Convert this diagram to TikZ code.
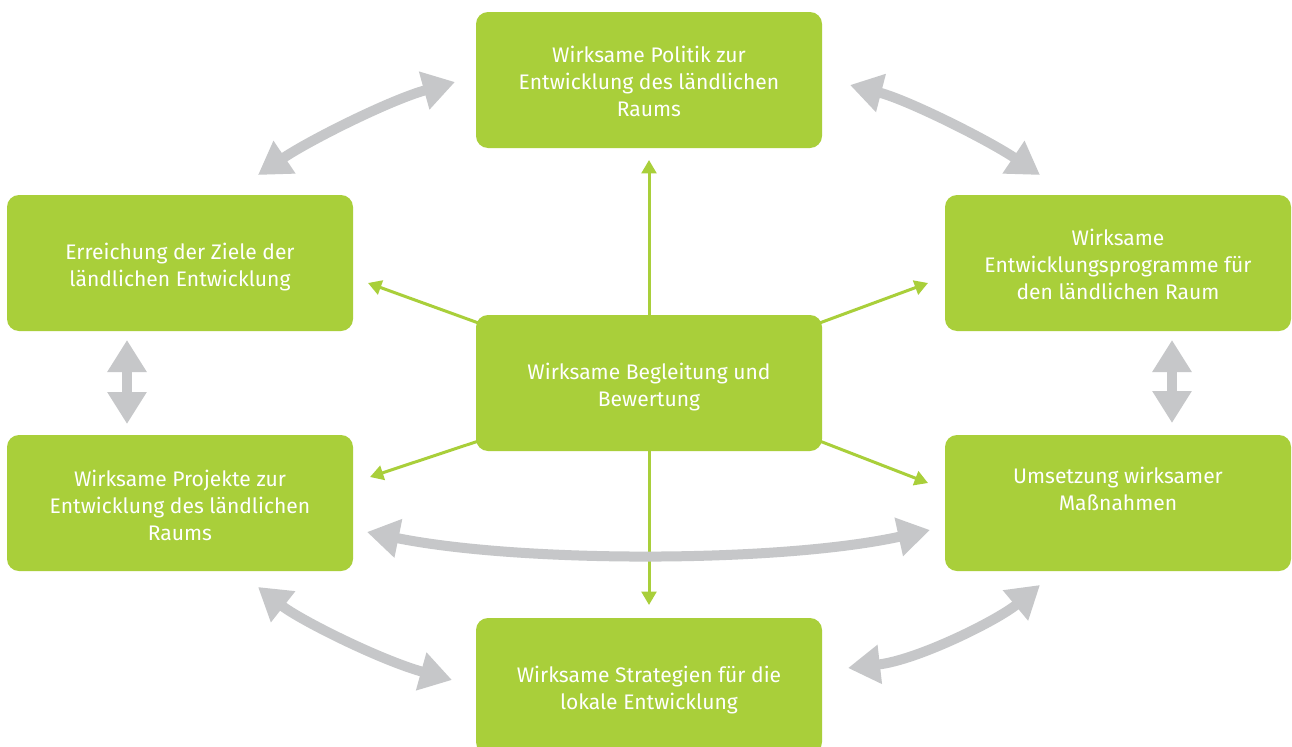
\documentclass[tikz,border=0pt]{standalone}
\usepackage{fontspec}
\setmainfont{Fira Sans}
\usetikzlibrary{arrows.meta,calc}
\definecolor{eugreen}{HTML}{A9CF3A}
\definecolor{eugray}{HTML}{C6C7C9}
\begin{document}
\begin{tikzpicture}[x=0.75pt,y=-0.75pt,
  box/.style={fill=eugreen, rounded corners=9pt, minimum width=259.5pt, minimum height=102pt, inner sep=0pt},
  boxtext/.style={align=center, text=white, font=\fontsize{15.8}{20.25}\selectfont, inner sep=0pt},
  garrow/.style={draw=eugreen, line width=2.25pt, -{Triangle[width=11pt,length=10pt]}},
  grayarr/.style={draw=eugray, line width=7.5pt,
    {Triangle[width=28pt,length=24pt]}-{Triangle[width=28pt,length=24pt]}}]
\clip (0,0) rectangle (1292,746);
\fill[white] (0,0) rectangle (1292,746);

\node[box] (T)  at (649,80)  {};
\node[box] (LU) at (180,263) {};
\node[box] (RU) at (1118,263) {};
\node[box] (C)  at (649,383) {};
\node[box] (LL) at (180,503) {};
\node[box] (RL) at (1118,503) {};
\node[box] (B)  at (649,686) {};

\node[boxtext] (tT)  at ($(T)+(0,1)$)   {Wirksame Politik zur\\Entwicklung des ländlichen\\Raums};
\node[boxtext] (tLU) at ($(LU)+(0,4)$)  {Erreichung der Ziele der\\ländlichen Entwicklung};
\node[boxtext] (tRU) at ($(RU)+(0,1.5)$) {Wirksame\\Entwicklungsprogramme für\\den ländlichen Raum};
\node[boxtext] (tC)  at ($(C)+(0,4)$)   {Wirksame Begleitung und\\Bewertung};
\node[boxtext] (tLL) at ($(LL)+(0,2)$)  {Wirksame Projekte zur\\Entwicklung des ländlichen\\Raums};
\node[boxtext] (tRL) at ($(RL)+(0,-14)$) {Umsetzung wirksamer\\Maßnahmen};
\node[boxtext] (tB)  at ($(B)+(0,4)$)   {Wirksame Strategien für die\\lokale Entwicklung};

% green arrows from the centre box
\coordinate (gT) at (649,160);
\coordinate (gB) at (649,605);
\coordinate (gLU) at (368,283);
\coordinate (gLL) at (370,477);
\coordinate (gRU) at (928,283);
\coordinate (gRL) at (928,483);
\draw[garrow] ($(C.north)+(0,4)$) -- (gT);
\draw[garrow] ($(C.south)+(0,-4)$) -- (gB);
\draw[garrow] ($(C.north west)+(2,8)$) -- (gLU);
\draw[garrow] ($(C.south west)+(2,-10)$) -- (gLL);
\draw[garrow] ($(C.north east)+(-2,8)$) -- (gRU);
\draw[garrow] ($(C.south east)+(-2,-10)$) -- (gRL);

% grey double arrows
\coordinate (a1) at (258,175);  \coordinate (a2) at (455,82);
\coordinate (b1) at (850,85);   \coordinate (b2) at (1040,175);
\coordinate (c1) at (127,340);  \coordinate (c2) at (127,424);
\coordinate (d1) at (1172,340); \coordinate (d2) at (1172,423);
\coordinate (e1) at (367,532);  \coordinate (e2) at (930,530);
\coordinate (f1) at (258,587);  \coordinate (f2) at (452,680);
\coordinate (h1) at (848,668);  \coordinate (h2) at (1040,585);
\draw[grayarr] (a1) .. controls (310,140) and (390,100) .. (a2);
\draw[grayarr] (b1) .. controls (908,100) and (988,140) .. (b2);
\draw[grayarr] (c1) -- (c2);
\draw[grayarr] (d1) -- (d2);
\draw[grayarr] (e1) .. controls (520,563) and (780,563) .. (e2);
\draw[grayarr] (f1) .. controls (300,620) and (380,660) .. (f2);
\draw[grayarr] (h1) .. controls (918,660) and (998,620) .. (h2);
\end{tikzpicture}
\end{document}
